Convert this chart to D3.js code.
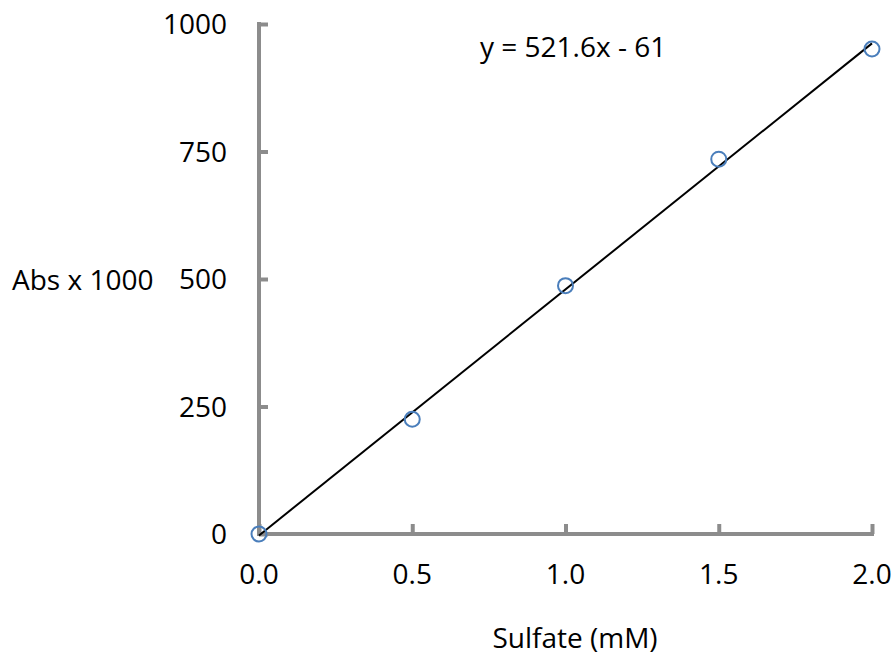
<!DOCTYPE html>
<html>
<head>
<meta charset="utf-8">
<script src="https://cdn.jsdelivr.net/npm/d3@7"></script>
<style>
  body { margin: 0; background: #fff; }
  text { font-family: "Open Sans", Lato, sans-serif; fill: #000; }
</style>
</head>
<body>
<script>
// data
var sulfate = [0, 0.5, 1.0, 1.5, 2.0];
var absorbance = [0, 225, 487, 735, 951];
var xTicks = [0, 0.5, 1.0, 1.5, 2.0];
var yTicks = [0, 250, 500, 750, 1000];
var equationLabel = "y = 521.6x - 61";

var width = 896, height = 657;
var fontSize = 28;

var svg = d3.select('body').append('svg').attr('width', width).attr('height', height);

var x = d3.scaleLinear().domain([0, 2]).range([259, 872]);
var y = d3.scaleLinear().domain([0, 1000]).range([534, 24]);

// least squares line through the points
var mx = d3.mean(sulfate), my = d3.mean(absorbance);
var slope = d3.sum(sulfate, function(d, i) { return (d - mx) * (absorbance[i] - my); }) /
            d3.sum(sulfate, function(d) { return (d - mx) * (d - mx); });
var intercept = my - slope * mx;

// axes
var axisColor = '#8c8c8c';
var yAxis = svg.append('g').attr('transform', 'translate(' + x(0) + ',0)')
  .call(d3.axisRight(y).tickValues(yTicks).tickSize(9).tickFormat(''));
var xAxis = svg.append('g').attr('transform', 'translate(0,' + y(0) + ')')
  .call(d3.axisTop(x).tickValues(xTicks).tickSize(10).tickFormat(''));
svg.selectAll('.domain').remove();
[yAxis, xAxis].forEach(function(g) {
  g.selectAll('line').attr('stroke', axisColor).attr('stroke-width', 4);
});
svg.append('line').attr('x1', x(0)).attr('x2', x(0)).attr('y1', y(1000) - 2).attr('y2', y(0) + 2)
  .attr('stroke', axisColor).attr('stroke-width', 4);
svg.append('line').attr('x1', x(0) - 2).attr('x2', x(2) + 2).attr('y1', y(0)).attr('y2', y(0))
  .attr('stroke', axisColor).attr('stroke-width', 4);

// tick labels
svg.selectAll('.ylab').data(yTicks).enter().append('text')
  .attr('x', 227).attr('y', function(d) { return y(d) + 10; })
  .attr('text-anchor', 'end').attr('font-size', fontSize)
  .text(function(d) { return d; });
svg.selectAll('.xlab').data(xTicks).enter().append('text')
  .attr('x', function(d) { return x(d); }).attr('y', 584)
  .attr('text-anchor', 'middle').attr('font-size', fontSize)
  .text(function(d) { return d3.format('.1f')(d); });

// axis titles
svg.append('text').attr('x', 12).attr('y', 290).attr('font-size', fontSize).text('Abs x 1000');
svg.append('text').attr('x', 575).attr('y', 648).attr('text-anchor', 'middle').attr('font-size', fontSize).text('Sulfate (mM)');

// trendline
svg.append('line')
  .attr('x1', x(0)).attr('y1', y(intercept))
  .attr('x2', x(2)).attr('y2', y(intercept + slope * 2))
  .attr('stroke', '#000').attr('stroke-width', 2);

// points
svg.selectAll('circle').data(sulfate).enter().append('circle')
  .attr('cx', function(d) { return x(d); })
  .attr('cy', function(d, i) { return y(absorbance[i]); })
  .attr('r', 7.5).attr('fill', 'none').attr('stroke', '#4a7ebb').attr('stroke-width', 2);

svg.append('text').attr('x', 480).attr('y', 57).attr('font-size', fontSize).text(equationLabel);
</script>
</body>
</html>
